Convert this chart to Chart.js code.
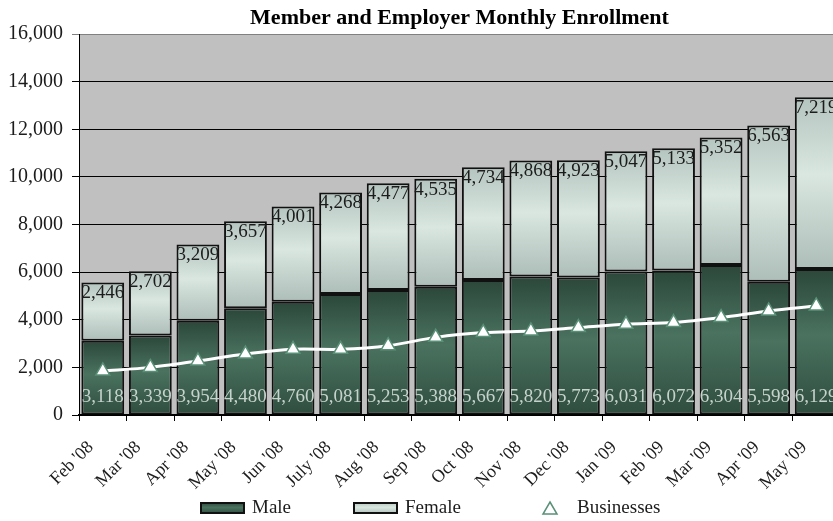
<!DOCTYPE html>
<html>
<head>
<meta charset="utf-8">
<title>Member and Employer Monthly Enrollment</title>
<script src="https://cdn.jsdelivr.net/npm/chart.js@4.4.1/dist/chart.umd.min.js"></script>
<style>
    body { margin: 0; background: #fff; overflow: hidden; }
    #wrap { width: 880px; height: 521px; }
</style>
</head>
<body>
<div id="wrap"><canvas id="enrollChart" width="880" height="521"></canvas></div>
<script>
const months = ["Feb '08", "Mar '08", "Apr '08", "May '08", "Jun '08", "July '08", "Aug '08", "Sep '08",
    "Oct '08", "Nov '08", "Dec '08", "Jan '09", "Feb '09", "Mar '09", "Apr '09", "May '09"];
const maleEnrollment = [3118, 3339, 3954, 4480, 4760, 5081, 5253, 5388, 5667, 5820, 5773, 6031, 6072, 6304, 5598, 6129];
const femaleEnrollment = [2446, 2702, 3209, 3657, 4001, 4268, 4477, 4535, 4734, 4868, 4923, 5047, 5133, 5352, 6563, 7219];
const businesses = [1850, 2000, 2270, 2560, 2760, 2760, 2910, 3260, 3460, 3530, 3670, 3810, 3880, 4090, 4370, 4580];
const yTicks = [0, 2000, 4000, 6000, 8000, 10000, 12000, 14000, 16000];

const serif = "'Liberation Serif', 'Times New Roman', serif";

// vertical dark-light-dark gradient for one bar segment
function segmentGradient(ctx, top, bottom, stops) {
    const g = ctx.createLinearGradient(0, top, 0, bottom);
    stops.forEach(s => g.addColorStop(s[0], s[1]));
    return g;
}

const maleStops = [[0, '#2b473a'], [0.45, '#4a725f'], [1, '#2f4d3f']];
const femaleStops = [[0, '#b4c4be'], [0.45, '#dae7e1'], [1, '#adbdb7']];

function barFill(stops, lowerOf, upperOf, fallback) {
    return function(context) {
        const chart = context.chart;
        if (!chart.chartArea || context.type !== 'data') return fallback;
        const y = chart.scales.y;
        const i = context.dataIndex;
        const top = y.getPixelForValue(upperOf(i));
        const bottom = y.getPixelForValue(lowerOf(i));
        return segmentGradient(chart.ctx, top, bottom, stops);
    };
}

// gray plot area + title centred on it
const plotBackground = {
    id: 'plotBackground',
    beforeDraw(chart) {
        const { ctx, chartArea } = chart;
        ctx.save();
        ctx.fillStyle = '#c0c0c0';
        ctx.fillRect(chartArea.left, chartArea.top, chartArea.right - chartArea.left, chartArea.bottom - chartArea.top);
        ctx.restore();
    },
    afterDraw(chart) {
        const { ctx, chartArea } = chart;
        ctx.save();
        ctx.font = 'bold 22px ' + serif;
        ctx.fillStyle = '#000';
        ctx.textAlign = 'center';
        ctx.textBaseline = 'middle';
        ctx.fillText('Member and Employer Monthly Enrollment', (chartArea.left + chartArea.right) / 2, 18);
        ctx.restore();
    }
};

// value labels on the bar segments
const barLabels = {
    id: 'barLabels',
    afterDatasetsDraw(chart) {
        const ctx = chart.ctx;
        ctx.save();
        ctx.font = '19px ' + serif;
        ctx.textAlign = 'center';
        ctx.textBaseline = 'middle';
        chart.getDatasetMeta(1).data.forEach((bar, i) => {
            ctx.fillStyle = '#1c1c1c';
            ctx.fillText(femaleEnrollment[i].toLocaleString('en-US'), bar.x, bar.y + 11);
        });
        chart.getDatasetMeta(0).data.forEach((bar, i) => {
            ctx.fillStyle = '#c6d2cc';
            ctx.fillText(maleEnrollment[i].toLocaleString('en-US'), bar.x, bar.base - 17);
        });
        ctx.restore();
    }
};

// legend row under the axis labels
const bottomLegend = {
    id: 'bottomLegend',
    afterDraw(chart) {
        const ctx = chart.ctx;
        const cy = 508;
        ctx.save();
        ctx.font = '19px ' + serif;
        ctx.textBaseline = 'middle';

        ctx.fillStyle = segmentGradient(ctx, cy - 6, cy + 6, maleStops);
        ctx.fillRect(201, cy - 5, 43, 10);
        ctx.lineWidth = 2;
        ctx.strokeStyle = '#111';
        ctx.strokeRect(201, cy - 5, 43, 10);
        ctx.fillStyle = '#1c1c1c';
        ctx.fillText('Male', 252, cy);

        ctx.fillStyle = segmentGradient(ctx, cy - 6, cy + 6, femaleStops);
        ctx.fillRect(354, cy - 5, 43, 10);
        ctx.strokeRect(354, cy - 5, 43, 10);
        ctx.fillStyle = '#1c1c1c';
        ctx.fillText('Female', 405, cy);

        ctx.beginPath();
        ctx.moveTo(550, cy - 6);
        ctx.lineTo(557, cy + 6);
        ctx.lineTo(543, cy + 6);
        ctx.closePath();
        ctx.lineWidth = 1.5;
        ctx.strokeStyle = '#5a9078';
        ctx.stroke();
        ctx.fillText('Businesses', 577, cy);
        ctx.restore();
    }
};

const chartCtx = document.getElementById('enrollChart').getContext('2d');
const enrollChart = new Chart(chartCtx, {
    type: 'bar',
    data: {
        labels: months,
        datasets: [
            {
                label: 'Male',
                data: maleEnrollment,
                backgroundColor: barFill(maleStops, i => 0, i => maleEnrollment[i], '#3e6553'),
                borderColor: '#111',
                borderWidth: 2,
                borderSkipped: false,
                barPercentage: 0.9,
                categoryPercentage: 1,
                order: 1
            },
            {
                label: 'Female',
                data: femaleEnrollment,
                backgroundColor: barFill(femaleStops, i => maleEnrollment[i], i => maleEnrollment[i] + femaleEnrollment[i], '#cddbd5'),
                borderColor: '#111',
                borderWidth: 2,
                borderSkipped: false,
                barPercentage: 0.9,
                categoryPercentage: 1,
                order: 1
            },
            {
                type: 'line',
                label: 'Businesses',
                data: businesses,
                borderColor: '#ffffff',
                borderWidth: 3,
                tension: 0.3,
                pointStyle: 'triangle',
                pointRadius: 8,
                pointBackgroundColor: '#ffffff',
                pointBorderColor: '#5a9078',
                pointBorderWidth: 1.5,
                order: 0
            }
        ]
    },
    options: {
        responsive: false,
        animation: false,
        layout: {
            padding: { top: 34, right: 40, bottom: 0, left: 0 }
        },
        plugins: {
            legend: { display: false },
            title: { display: false },
            tooltip: { enabled: false }
        },
        scales: {
            x: {
                stacked: true,
                afterFit: scale => { scale.height = 106; },
                border: { color: '#000', width: 2 },
                grid: {
                    offset: true,
                    drawOnChartArea: false,
                    drawTicks: true,
                    tickLength: 6,
                    color: '#000'
                },
                ticks: {
                    minRotation: 45,
                    maxRotation: 45,
                    labelOffset: -12,
                    padding: 16,
                    color: '#1c1c1c',
                    font: { family: serif, size: 18 }
                }
            },
            y: {
                stacked: true,
                min: 0,
                max: 16000,
                afterFit: scale => { scale.width = 79; },
                afterBuildTicks: scale => { scale.ticks = yTicks.map(v => ({ value: v })); },
                border: { color: '#000', width: 1 },
                grid: {
                    color: ctx => (ctx.tick && ctx.tick.value === 16000 ? '#808080' : '#000'),
                    tickLength: 7,
                    lineWidth: 1
                },
                ticks: {
                    padding: 9,
                    color: '#1c1c1c',
                    font: { family: serif, size: 20 },
                    callback: v => v.toLocaleString('en-US')
                }
            }
        }
    },
    plugins: [plotBackground, barLabels, bottomLegend]
});
</script>
</body>
</html>
